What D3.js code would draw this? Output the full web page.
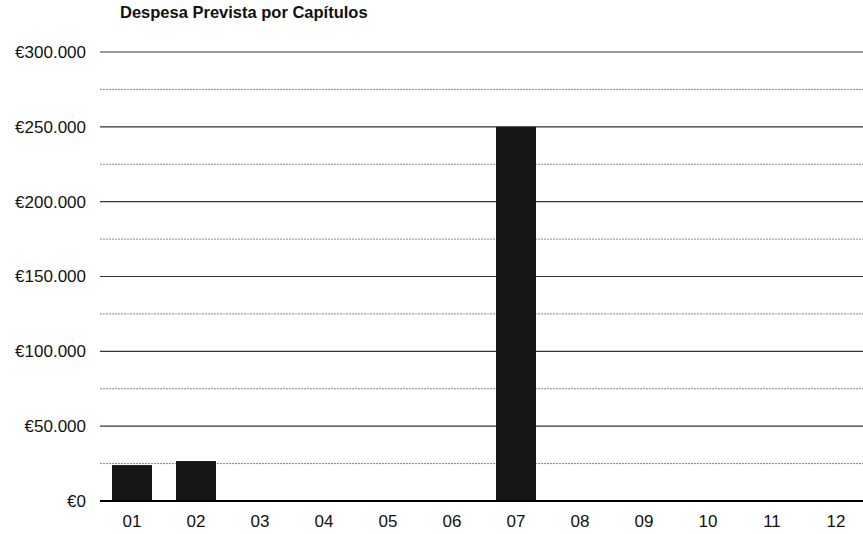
<!DOCTYPE html>
<html>
<head>
<meta charset="utf-8">
<script src="https://cdn.jsdelivr.net/npm/d3@7"></script>
<style>
  body { margin: 0; background: #fff; }
  svg { font-family: "Liberation Sans", Arial, sans-serif; }
</style>
</head>
<body>
<svg id="chart" width="863" height="534"></svg>
<script>
const capitulos = ["01","02","03","04","05","06","07","08","09","10","11","12"];
const despesa = [24000, 26700, 0, 0, 0, 0, 250000, 0, 0, 0, 0, 0];
const majorTicks = [0, 50000, 100000, 150000, 200000, 250000, 300000];
const minorTicks = [25000, 75000, 125000, 175000, 225000, 275000];

const svg = d3.select("#chart"),
      width = +svg.attr("width");

const x = d3.scaleBand().domain(capitulos).range([100, 868]).paddingInner(0.375).paddingOuter(0.1875);
const y = d3.scaleLinear().domain([0, 300000]).range([501, 52]);

const fmt = v => "€" + d3.format(",")(v).replace(/,/g, ".");

// minor gridlines
svg.append("g").selectAll("line")
  .data(minorTicks).enter().append("line")
    .attr("x1", 100).attr("x2", width)
    .attr("y1", d => y(d)).attr("y2", d => y(d))
    .attr("stroke", "#888").attr("stroke-width", 1)
    .attr("stroke-dasharray", "2,1");

// major gridlines
svg.append("g").selectAll("line")
  .data(majorTicks.filter(d => d > 0)).enter().append("line")
    .attr("x1", 100).attr("x2", width)
    .attr("y1", d => y(d)).attr("y2", d => y(d))
    .attr("stroke", "#333").attr("stroke-width", 1.2);

// bars
svg.append("g").selectAll("rect")
  .data(capitulos.map((c, i) => ({c, v: despesa[i]})).filter(d => d.v > 0))
  .enter().append("rect")
    .attr("x", d => x(d.c))
    .attr("width", x.bandwidth())
    .attr("y", d => y(d.v))
    .attr("height", d => y(0) - y(d.v))
    .attr("fill", "#161616");

// zero line
svg.append("line")
  .attr("x1", 100).attr("x2", width)
  .attr("y1", y(0)).attr("y2", y(0))
  .attr("stroke", "#000").attr("stroke-width", 2);

// y axis labels
const yAxis = svg.append("g")
  .attr("transform", "translate(86,0)")
  .call(d3.axisLeft(y).tickValues(majorTicks).tickFormat(fmt).tickSize(0).tickPadding(0));
yAxis.select(".domain").remove();
yAxis.selectAll("text").attr("font-size", 17).attr("fill", "#111")
  .attr("font-family", "'Liberation Sans', Arial, sans-serif");

// x axis labels
const xAxis = svg.append("g")
  .attr("transform", "translate(0,515)")
  .call(d3.axisBottom(x).tickSize(0).tickPadding(0));
xAxis.select(".domain").remove();
xAxis.selectAll("text").attr("font-size", 17).attr("fill", "#111")
  .attr("font-family", "'Liberation Sans', Arial, sans-serif");

// title
svg.append("text")
  .attr("x", 120).attr("y", 18)
  .attr("font-size", 16.5).attr("font-weight", "bold").attr("fill", "#111")
  .text("Despesa Prevista por Capítulos");
</script>
</body>
</html>
